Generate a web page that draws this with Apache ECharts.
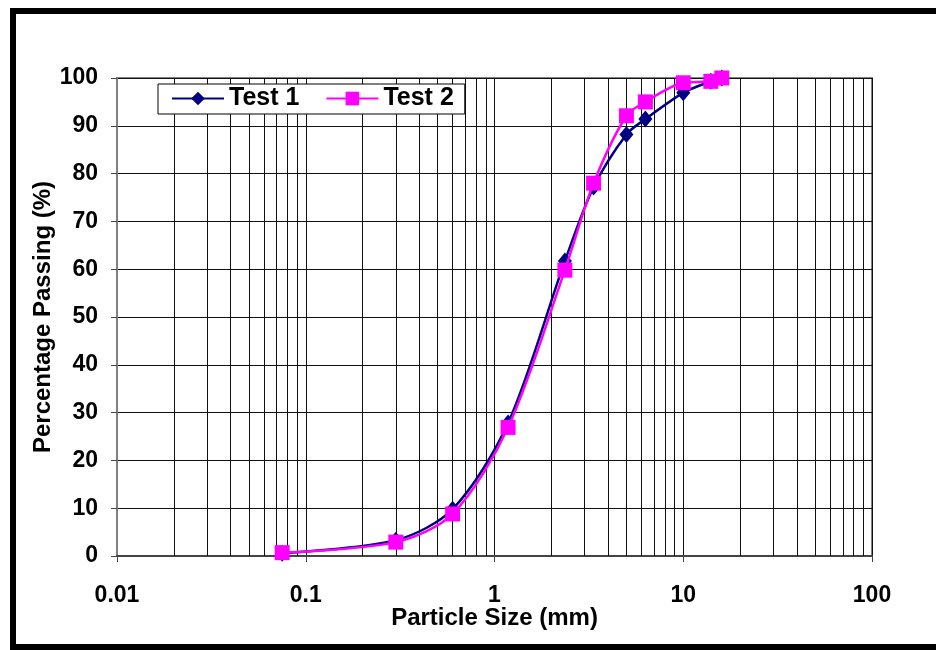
<!DOCTYPE html>
<html>
<head>
<meta charset="utf-8">
<script src="https://cdn.jsdelivr.net/npm/echarts@6/dist/echarts.min.js"></script>
<style>
  html, body { margin: 0; padding: 0; background: #fff; }
  #main { width: 936px; height: 650px; }
</style>
</head>
<body>
<div id="main"></div>
<script>
// sieve sizes (mm) and percentage passing
var sizes = [0.075, 0.3, 0.6, 1.18, 2.36, 3.35, 5, 6.3, 10, 14, 16];
var test1 = [0.6, 3.3, 9.8, 27.8, 61.7, 77.2, 88.2, 91.4, 96.9, 99.3, 100];
var test2 = [0.7, 2.9, 8.8, 26.9, 59.8, 78, 92.1, 95, 99, 99.3, 100];
// minor vertical gridlines (2..9 of each decade)
var minorGrid = [0.02, 0.03, 0.04, 0.05, 0.06, 0.07, 0.08, 0.09,
                 0.2, 0.3, 0.4, 0.5, 0.6, 0.7, 0.8, 0.9,
                 2, 3, 4, 5, 6, 7, 8, 9,
                 20, 30, 40, 50, 60, 70, 80, 90];

function pairs(xs, ys) {
    var out = [];
    for (var i = 0; i < xs.length; i++) {
        out.push([xs[i], ys[i]]);
    }
    return out;
}

var font = 'Liberation Sans, Arial, sans-serif';
var chart = echarts.init(document.getElementById('main'), null, { renderer: 'canvas' });

var option = {
    animation: false,
    backgroundColor: '#fff',
    graphic: [{
        type: 'rect',
        shape: { x: 13, y: 11, width: 1000, height: 636 },
        style: { fill: 'none', stroke: '#000', lineWidth: 6 },
        silent: true
    }],
    grid: {
        left: 117, right: 64, top: 78, bottom: 94,
        show: true,
        borderColor: '#808080',
        borderWidth: 2
    },
    legend: {
        data: ['Test 1', 'Test 2'],
        left: 158, top: 84,
        orient: 'horizontal',
        backgroundColor: '#fff',
        borderColor: '#000',
        borderWidth: 1,
        padding: [2, 11, 3, 13],
        itemGap: 26,
        itemWidth: 52,
        itemHeight: 17,
        textStyle: { fontFamily: font, fontWeight: 'bold', fontSize: 25, color: '#000' }
    },
    xAxis: {
        type: 'log',
        logBase: 10,
        min: 0.01,
        max: 100,
        name: 'Particle Size (mm)',
        nameLocation: 'middle',
        nameGap: 50,
        nameMoveOverlap: false,
        nameTextStyle: { fontFamily: font, fontWeight: 'bold', fontSize: 24, color: '#000' },
        axisLine: { show: true, lineStyle: { color: '#444', width: 2 } },
        axisTick: { show: true, inside: false, length: 6, lineStyle: { color: '#444', width: 1 } },
        axisLabel: {
            margin: 28,
            fontFamily: font, fontWeight: 'bold', fontSize: 23, color: '#000',
            formatter: function (v) { return String(+v.toPrecision(3)); }
        },
        splitLine: { show: true, lineStyle: { color: '#111', width: 1 } },
        minorTick: { show: false },
        minorSplitLine: { show: false }
    },
    yAxis: {
        type: 'value',
        min: 0,
        max: 100,
        interval: 10,
        name: 'Percentage Passing (%)',
        nameLocation: 'middle',
        nameGap: 62,
        nameMoveOverlap: false,
        nameTextStyle: { fontFamily: font, fontWeight: 'bold', fontSize: 24, color: '#000' },
        axisLine: { show: true, lineStyle: { color: '#808080', width: 2 } },
        axisTick: { show: true, inside: false, length: 6, lineStyle: { color: '#444', width: 1 } },
        axisLabel: { margin: 19, fontFamily: font, fontWeight: 'bold', fontSize: 23, color: '#000' },
        splitLine: { show: true, lineStyle: { color: '#111', width: 1 } }
    },
    series: [{
        name: 'Test 1',
        type: 'line',
        data: pairs(sizes, test1),
        smooth: 0.3,
        color: '#000080',
        symbol: 'diamond',
        symbolSize: [14, 17],
        showAllSymbol: true,
        lineStyle: { color: '#000080', width: 2.5 },
        itemStyle: { color: '#000080' },
        z: 3,
        markLine: {
            silent: true,
            z: 1,
            animation: false,
            symbol: ['none', 'none'],
            label: { show: false },
            emphasis: { disabled: true },
            lineStyle: { color: '#111', width: 1, type: 'solid' },
            data: minorGrid.map(function (v) { return { xAxis: v }; })
        }
    }, {
        name: 'Test 2',
        type: 'line',
        data: pairs(sizes, test2),
        smooth: 0.3,
        color: '#ff00ff',
        symbol: 'rect',
        symbolSize: 15,
        showAllSymbol: true,
        lineStyle: { color: '#ff00ff', width: 2.5 },
        itemStyle: { color: '#ff00ff' },
        z: 4
    }]
};

chart.setOption(option);
</script>
</body>
</html>
